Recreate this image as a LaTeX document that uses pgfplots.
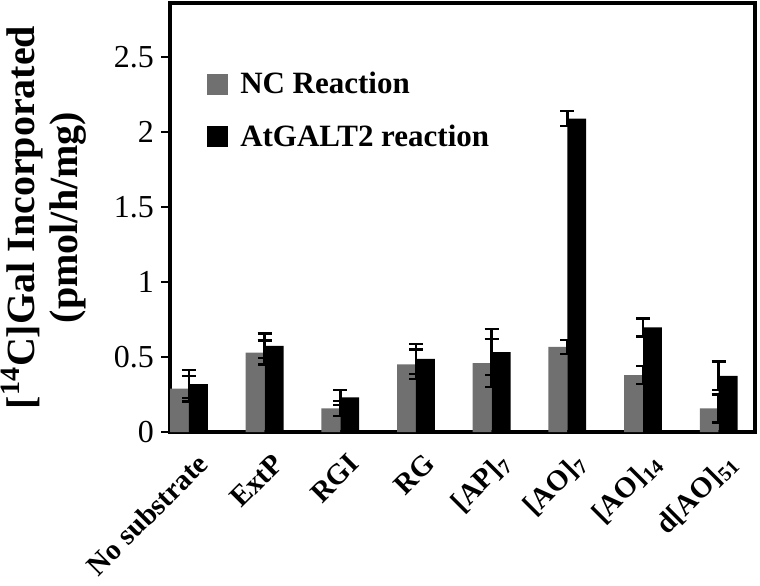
\documentclass[border=0pt]{standalone}
\usepackage{fontspec}
\setmainfont{Liberation Serif}
\usepackage{pgfplots}
\pgfplotsset{compat=1.18}
\definecolor{ncgray}{RGB}{112,112,112}

\pgfplotstableread{
x  y      e
0  0.290  0.085
1  0.530  0.080
2  0.158  0.050
3  0.451  0.098
4  0.460  0.161
5  0.567  0.048
6  0.380  0.061
7  0.158  0.093
}\ncdata

\pgfplotstableread{
x  y      e
0  0.320  0.093
1  0.575  0.083
2  0.231  0.050
3  0.487  0.100
4  0.533  0.153
5  2.090  0.050
6  0.698  0.060
7  0.375  0.094
}\galtdata

\begin{document}
\begin{tikzpicture}
\begin{axis}[
    width=292.5pt, height=214.5pt, scale only axis,
    xmin=-0.25, xmax=7.48,
    ymin=0, ymax=2.86,
    axis line style={line width=2pt},
    xtick={0,...,7},
    xticklabels={No substrate, ExtP, RGI, RG, [AP]\textsubscript{7}, [AO]\textsubscript{7}, [AO]\textsubscript{14}, d[AO]\textsubscript{51}},
    x tick label style={rotate=45, anchor=east, xshift=2.1pt, yshift=-11.3pt,
        font=\bfseries\fontsize{14.5}{17}\selectfont},
    xtick style={draw=none},
    ytick={0,0.5,1,1.5,2,2.5},
    ytick pos=left,
    tick align=outside,
    major tick length=4.5pt,
    ytick style={line width=1pt, black},
    y tick label style={font=\fontsize{16}{19}\selectfont},
    /pgf/number format/assume math mode=true,
    ylabel={[\textsuperscript{14}C]Gal Incorporated\\(pmol/h/mg)},
    ylabel style={at={(axis description cs:-0.2154,0.5)}, anchor=center,
        align=center, font=\bfseries\fontsize{20}{21.5}\selectfont},
    legend style={draw=none, fill=none, at={(0.063,0.849)}, anchor=north west,
        inner sep=0pt, font=\bfseries\fontsize{15.5}{18}\selectfont, row sep=10pt,
        /tikz/every odd column/.append style={column sep=4pt}},
    legend cell align=left,
    legend image code/.code={\fill[#1, draw=none] (0pt,-5.25pt) rectangle (10.5pt,5.25pt);},
]
\addplot[ybar, bar width=0.25, bar shift=-0.125, fill=ncgray, draw=none,
    error bars/.cd, y dir=both, y explicit,
    error bar style={draw=black, line width=1.25pt},
    error mark options={draw=black, line width=1.25pt, mark size=3.5pt, rotate=90}]
    table[x=x, y=y, y error=e] {\ncdata};
\addlegendentry{NC Reaction}
\addplot[ybar, bar width=0.25, bar shift=0.125, fill=black, draw=none,
    error bars/.cd, y dir=both, y explicit,
    error bar style={draw=black, line width=1.25pt},
    error mark options={draw=black, line width=1.25pt, mark size=3.5pt, rotate=90}]
    table[x=x, y=y, y error=e] {\galtdata};
\addlegendentry{AtGALT2 reaction}
\end{axis}
\pgfresetboundingbox
\path ([xshift=-85pt,yshift=-76.5pt]current axis.south west) rectangle ([xshift=2.5pt,yshift=1.5pt]current axis.north east);
\end{tikzpicture}
\end{document}
